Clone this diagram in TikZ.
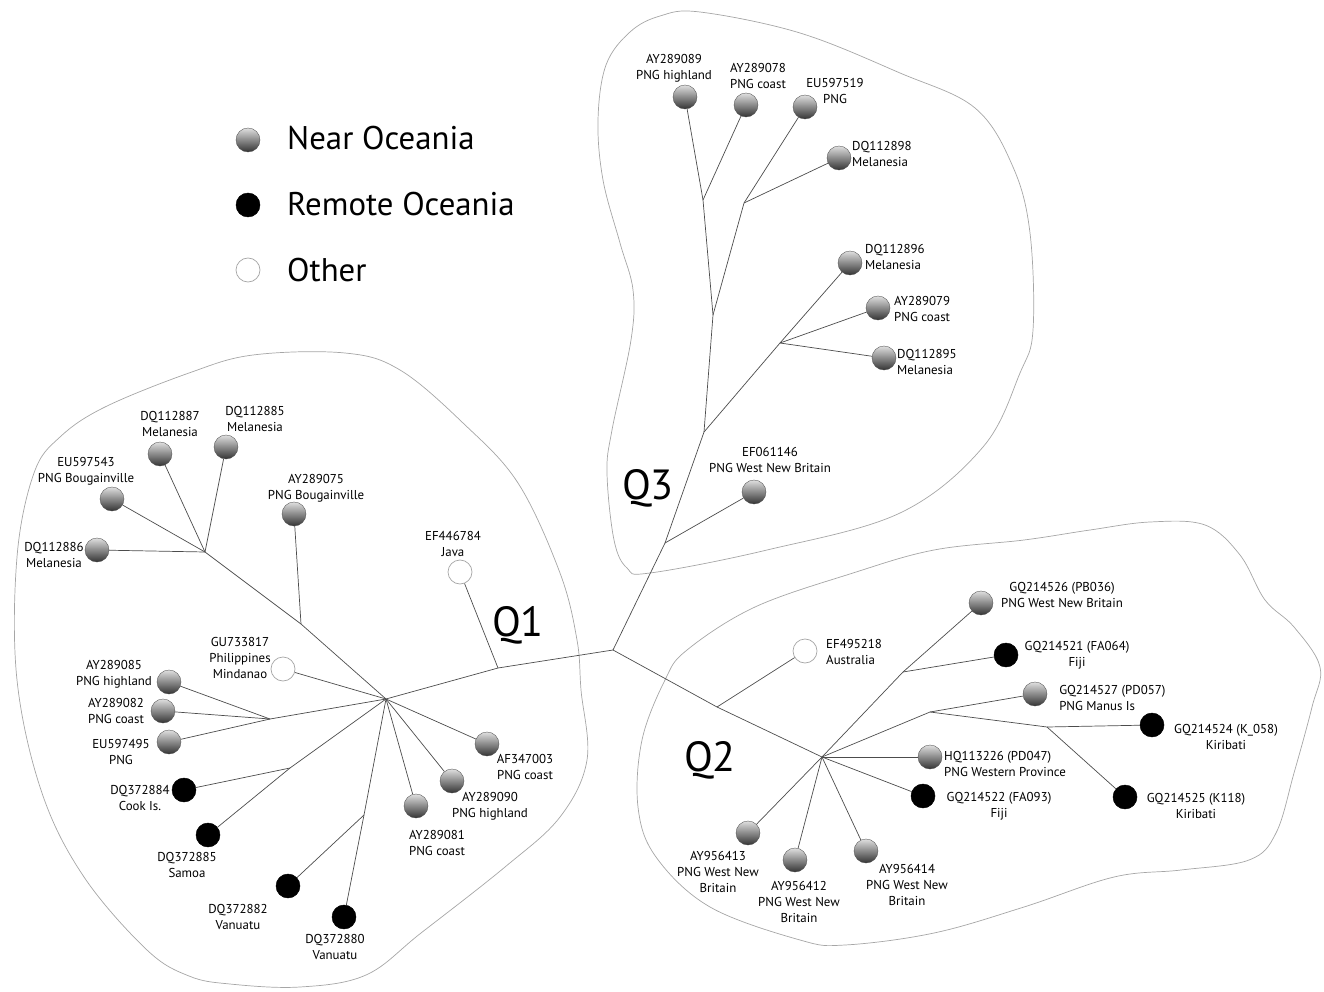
\documentclass[tikz,border=0pt]{standalone}
\usepackage{fontspec}
\setmainfont{PT Sans}
\tikzset{
  near/.style={circle, minimum size=0.72cm, inner sep=0pt, draw=gray!60!black, line width=0.3pt,
    top color=gray!25, bottom color=black!80},
  remote/.style={circle, minimum size=0.72cm, inner sep=0pt, fill=black, draw=black},
  other/.style={circle, minimum size=0.72cm, inner sep=0pt, fill=white, draw=gray!70, line width=0.6pt},
  branch/.style={draw=gray!60!black, line width=0.6pt},
  outline/.style={draw=gray!70, line width=0.6pt},
  lbl/.style={font=\fontsize{11}{13.6}\selectfont, align=center, inner sep=0pt},
  lbll/.style={lbl, align=left, anchor=west},
  key/.style={font=\fontsize{28}{30}\selectfont, anchor=west, inner sep=0pt},
  clade/.style={font=\fontsize{36}{38}\selectfont, inner sep=0pt}
}
\begin{document}
\begin{tikzpicture}[x=0.03cm, y=-0.03cm]
  \useasboundingbox (0,0) rectangle (1324,992);

  % groups
  \draw[outline] plot[smooth cycle, tension=0.6] coordinates {(345,353) (400,370) (463,423) (518,483)
    (560,573) (577,640) (581,690) (587,760) (560,817) (505,867) (421,933) (366,975) (300,987)
    (230,984) (189,976) (147,950) (84,877) (42,793) (17,680) (17,557) (34,473) (60,437)
    (105,407) (189,373) (253,355)};
  \draw[outline] plot[smooth cycle, tension=0.6] coordinates {(700,12) (800,33) (900,73) (975,108)
    (1013,167) (1030,233) (1033,330) (1020,373) (983,447) (900,513) (767,550) (650,573)
    (627,568) (614,540) (607,473) (612,430) (631,340) (633,290) (620,243) (603,180) (598,120)
    (606,65) (630,32) (660,16)};
  \draw[outline] plot[smooth cycle, tension=0.6] coordinates {(665,680) (642,740) (638,807)
    (656,857) (710,907) (800,940) (845,945) (934,933) (1024,907) (1114,877) (1181,870)
    (1249,860) (1276,833) (1294,773) (1312,707) (1320,667) (1294,627) (1265,600) (1240,555)
    (1205,525) (1150,522) (1090,530) (1024,540) (934,550) (853,573) (755,607) (687,650)};

  % legend
  \node[near]   (kn) at (248,140) {};
  \node[remote] (kr) at (248,205) {};
  \node[other]  (ko) at (248,270) {};
  \node[key] (tkn) at (287,138) {Near Oceania};
  \node[key] (tkr) at (287,204) {Remote Oceania};
  \node[key] (tko) at (287,270) {Other};

  % inner nodes
  \coordinate (c) at (613,650);
  \coordinate (h1) at (386,699);
  \coordinate (jmel) at (205,552);
  \coordinate (jbou) at (301,624);
  \coordinate (jjava) at (498,668);
  \coordinate (jpng) at (270,719);
  \coordinate (jcook) at (290,768);
  \coordinate (jvan) at (364,815);
  \coordinate (ja) at (703,200);
  \coordinate (jb) at (744,203);
  \coordinate (jc) at (713,315);
  \coordinate (jd) at (704,432);
  \coordinate (jdd) at (780,343);
  \coordinate (je) at (665,543);
  \coordinate (h2) at (822,757);
  \coordinate (jaus) at (717,707);
  \coordinate (jfiji) at (903,672);
  \coordinate (jman) at (930,712);
  \coordinate (jkir) at (1047,727);

  % Q1
  \node[near]   (dq112887) at (160,454) {};
  \node[near]   (dq112885) at (226,447) {};
  \node[near]   (eu597543) at (112,499) {};
  \node[near]   (dq112886) at (97,550) {};
  \node[near]   (ay289075) at (294,514) {};
  \node[other]  (ef446784) at (460,572) {};
  \node[other]  (gu733817) at (283,669) {};
  \node[near]   (ay289085) at (169,682) {};
  \node[near]   (ay289082) at (163,711) {};
  \node[near]   (eu597495) at (169,742) {};
  \node[remote] (dq372884) at (184,790) {};
  \node[remote] (dq372885) at (208,835) {};
  \node[remote] (dq372882) at (288,886) {};
  \node[remote] (dq372880) at (344,917) {};
  \node[near]   (ay289081) at (416,806) {};
  \node[near]   (ay289090) at (452,781) {};
  \node[near]   (af347003) at (487,744) {};

  \node[lbl] (l-dq112887) at (170,424) {DQ112887\\Melanesia};
  \node[lbl] (l-dq112885) at (255,419) {DQ112885\\Melanesia};
  \node[lbl] (l-eu597543) at (86,471) {EU597543\\PNG Bougainville};
  \node[lbl] (l-ay289075) at (316,488) {AY289075\\PNG Bougainville};
  \node[lbl] (l-dq112886) at (54,555) {DQ112886\\Melanesia};
  \node[lbl] (l-ef446784) at (453,544) {EF446784\\Java};
  \node[lbl] (l-gu733817) at (240,658) {GU733817\\Philippines\\Mindanao};
  \node[lbl] (l-ay289085) at (114,674) {AY289085\\PNG highland};
  \node[lbl] (l-ay289082) at (116,711) {AY289082\\PNG coast};
  \node[lbl] (l-eu597495) at (121,752) {EU597495\\PNG};
  \node[lbl] (l-dq372884) at (140,798) {DQ372884\\Cook Is.};
  \node[lbl] (l-dq372885) at (187,865) {DQ372885\\Samoa};
  \node[lbl] (l-dq372882) at (238,917) {DQ372882\\Vanuatu};
  \node[lbl] (l-dq372880) at (335,947) {DQ372880\\Vanuatu};
  \node[lbl] (l-ay289081) at (437,843) {AY289081\\PNG coast};
  \node[lbl] (l-ay289090) at (490,806) {AY289090\\PNG highland};
  \node[lbl] (l-af347003) at (525,767) {AF347003\\PNG coast};
  \node[clade] (q1) at (518,625) {Q1};

  % Q3
  \node[near] (ay289089) at (685,97) {};
  \node[near] (ay289078) at (746,105) {};
  \node[near] (eu597519) at (805,107) {};
  \node[near] (dq112898) at (839,158) {};
  \node[near] (dq112896) at (850,263) {};
  \node[near] (ay289079) at (878,308) {};
  \node[near] (dq112895) at (884,358) {};
  \node[near] (ef061146) at (754,492) {};

  \node[lbl]  (l-ay289089) at (674,68) {AY289089\\PNG highland};
  \node[lbl]  (l-ay289078) at (758,76) {AY289078\\PNG coast};
  \node[lbl]  (l-eu597519) at (835,91) {EU597519\\PNG};
  \node[lbll] (l-dq112898) at (852,154) {DQ112898\\Melanesia};
  \node[lbll] (l-dq112896) at (865,257) {DQ112896\\Melanesia};
  \node[lbll] (l-ay289079) at (894,309) {AY289079\\PNG coast};
  \node[lbll] (l-dq112895) at (897,362) {DQ112895\\Melanesia};
  \node[lbl]  (l-ef061146) at (770,460) {EF061146\\PNG West New Britain};
  \node[clade] (q3) at (648,488) {Q3};

  % Q2
  \node[other]  (ef495218) at (805,651) {};
  \node[near]   (gq214526) at (981,603) {};
  \node[remote] (gq214521) at (1006,655) {};
  \node[near]   (gq214527) at (1035,694) {};
  \node[remote] (gq214524) at (1152,725) {};
  \node[remote] (gq214525) at (1125,797) {};
  \node[near]   (hq113226) at (930,757) {};
  \node[remote] (gq214522) at (923,796) {};
  \node[near]   (ay956413) at (748,833) {};
  \node[near]   (ay956412) at (795,860) {};
  \node[near]   (ay956414) at (866,851) {};

  \node[lbll] (l-ef495218) at (826,652) {EF495218\\Australia};
  \node[lbl]  (l-gq214526) at (1062,595) {GQ214526 (PB036)\\PNG West New Britain};
  \node[lbl]  (l-gq214521) at (1077,655) {GQ214521 (FA064)\\Fiji};
  \node[lbll] (l-gq214527) at (1059,698) {GQ214527 (PD057)\\PNG Manus Is};
  \node[lbl]  (l-gq214524) at (1226,737) {GQ214524 (K\_058)\\Kiribati};
  \node[lbll] (l-hq113226) at (944,764) {HQ113226 (PD047)\\PNG Western Province};
  \node[lbl]  (l-gq214522) at (999,806) {GQ214522 (FA093)\\Fiji};
  \node[lbl]  (l-gq214525) at (1196,806) {GQ214525 (K118)\\Kiribati};
  \node[lbl]  (l-ay956413) at (718,872) {AY956413\\PNG West New\\Britain};
  \node[lbl]  (l-ay956412) at (799,902) {AY956412\\PNG West New\\Britain};
  \node[lbl]  (l-ay956414) at (907,885) {AY956414\\PNG West New\\Britain};
  \node[clade] (q2) at (710,760) {Q2};

  % branches
  \draw[branch] (h1) -- (jjava) -- (c);
  \draw[branch] (jjava) -- (ef446784);
  \draw[branch] (h1) -- (jbou) -- (jmel);
  \draw[branch] (jbou) -- (ay289075);
  \foreach \t in {dq112886,eu597543,dq112887,dq112885}
    \draw[branch] (jmel) -- (\t);
  \draw[branch] (h1) -- (gu733817);
  \draw[branch] (h1) -- (jpng);
  \foreach \t in {ay289085,ay289082,eu597495}
    \draw[branch] (jpng) -- (\t);
  \draw[branch] (h1) -- (jcook) -- (dq372885);
  \draw[branch] (jcook) -- (dq372884);
  \draw[branch] (h1) -- (jvan) -- (dq372880);
  \draw[branch] (jvan) -- (dq372882);
  \foreach \t in {ay289081,ay289090,af347003}
    \draw[branch] (h1) -- (\t);

  \draw[branch] (c) -- (je) -- (jd) -- (jc) -- (ja) -- (ay289089);
  \draw[branch] (ja) -- (ay289078);
  \draw[branch] (jc) -- (jb) -- (eu597519);
  \draw[branch] (jb) -- (dq112898);
  \draw[branch] (jd) -- (jdd);
  \foreach \t in {dq112896,ay289079,dq112895}
    \draw[branch] (jdd) -- (\t);
  \draw[branch] (je) -- (ef061146);

  \draw[branch] (c) -- (jaus) -- (h2);
  \draw[branch] (jaus) -- (ef495218);
  \draw[branch] (h2) -- (jfiji) -- (gq214526);
  \draw[branch] (jfiji) -- (gq214521);
  \draw[branch] (h2) -- (jman) -- (gq214527);
  \draw[branch] (jman) -- (jkir) -- (gq214524);
  \draw[branch] (jkir) -- (gq214525);
  \foreach \t in {hq113226,gq214522,ay956413,ay956412,ay956414}
    \draw[branch] (h2) -- (\t);
\end{tikzpicture}
\end{document}
